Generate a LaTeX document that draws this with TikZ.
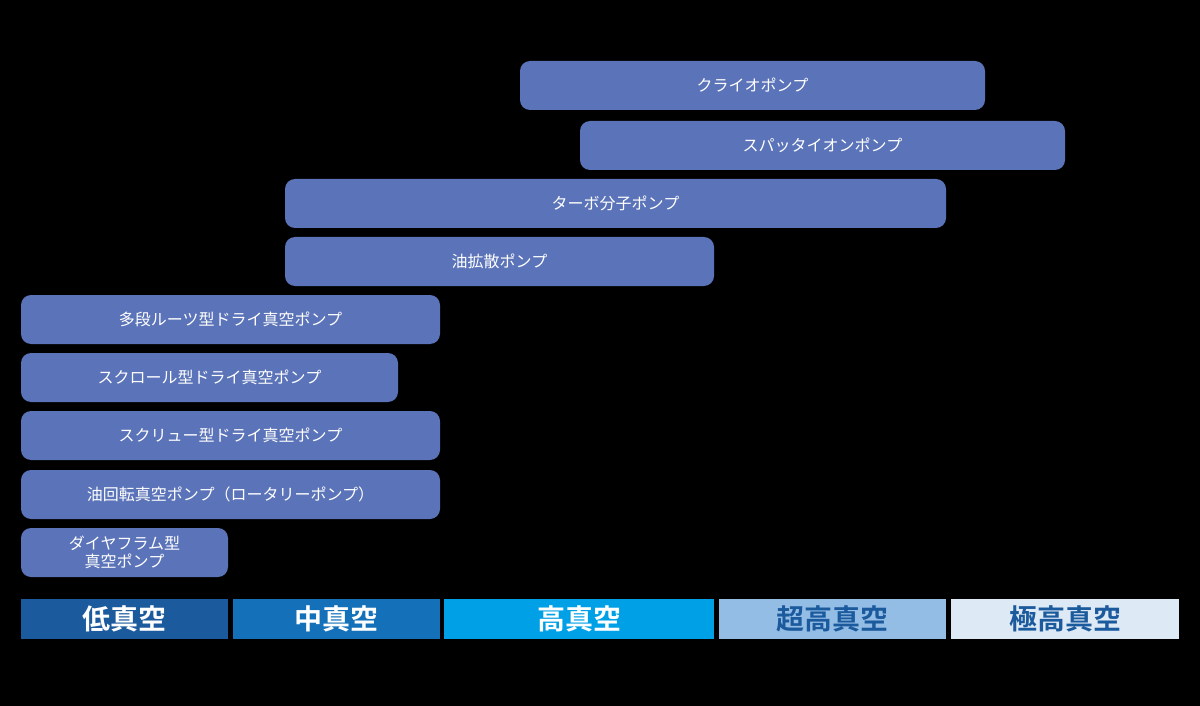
\documentclass[tikz,border=0pt]{standalone}
\usepackage{fontspec}
\newfontfamily\jp{Noto Sans CJK JP}
\newfontfamily\jpb{Noto Sans CJK JP Bold}
\definecolor{barc}{HTML}{5B73B8}
\definecolor{lowc}{HTML}{1B5A9C}
\definecolor{midc}{HTML}{1470B8}
\definecolor{highc}{HTML}{00A0E6}
\definecolor{uhc}{HTML}{94BDE6}
\definecolor{xhc}{HTML}{DEE9F6}
\tikzset{
  pump/.style={fill=barc, rounded corners=7.5pt, text=white, font=\jp\fontsize{12}{14}\selectfont, align=center},
  band/.style={font=\jpb\fontsize{21}{24}\selectfont}
}
\newcommand{\pumpbar}[6]{\fill[barc, rounded corners=7.5pt] (#2,#3) rectangle (#4,#5);
  \node[text=white, font=\jp\fontsize{12}{14}\selectfont, align=center] (#1) at ({(#2+#4)/2},{(#3+#5)/2}) {#6};}
\newcommand{\bandbox}[7]{\fill[#6] (#2,599) rectangle (#3,639);
  \node[band, text=#7] (#1) at ({(#2+#3)/2},619) {#4};}
\begin{document}
\begin{tikzpicture}[x=0.75pt,y=-0.75pt]
\fill[black] (0,0) rectangle (1200,706);
\useasboundingbox (0,0) rectangle (1200,706);
\pumpbar{cryo}{520}{61}{985}{110}{クライオポンプ}
\pumpbar{sput}{580}{121}{1065}{170}{スパッタイオンポンプ}
\pumpbar{turbo}{285}{179}{946}{228}{ターボ分子ポンプ}
\pumpbar{diff}{285}{237}{714}{286}{油拡散ポンプ}
\pumpbar{roots}{21}{295}{440}{344}{多段ルーツ型ドライ真空ポンプ}
\pumpbar{scroll}{21}{353}{398}{402}{スクロール型ドライ真空ポンプ}
\pumpbar{screw}{21}{411}{440}{460}{スクリュー型ドライ真空ポンプ}
\pumpbar{rotary}{21}{470}{440}{519}{油回転真空ポンプ（ロータリーポンプ）}
\pumpbar{dia}{21}{528}{228}{577}{ダイヤフラム型\\真空ポンプ}
\bandbox{low}{21}{228}{低真空}{}{lowc}{white}
\bandbox{mid}{233}{440}{中真空}{}{midc}{white}
\bandbox{high}{444}{714}{高真空}{}{highc}{white}
\bandbox{uh}{719}{946}{超高真空}{}{uhc}{lowc}
\bandbox{xh}{951}{1179}{極高真空}{}{xhc}{lowc}
\end{tikzpicture}
\end{document}
